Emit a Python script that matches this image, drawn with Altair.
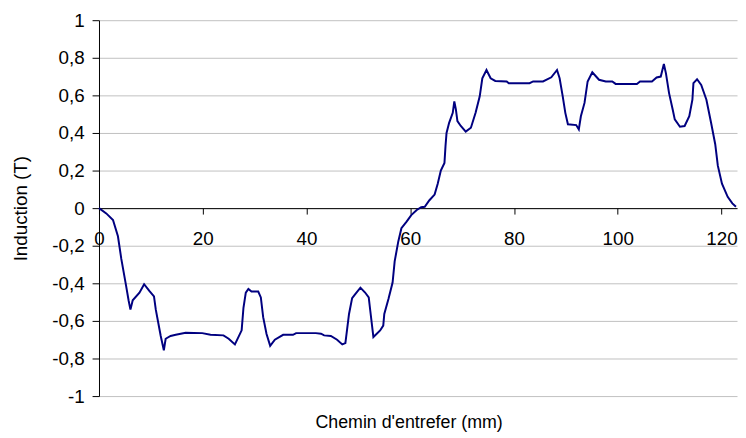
import altair as alt
import pandas as pd

# distance along the air gap (mm)
xs = [0.0, 1.4, 2.7, 3.65, 4.3, 5.2, 5.7, 6.06, 6.5, 7.8, 8.7, 9.7, 10.6, 10.95, 11.9, 12.5,
      12.85, 13.8, 14.8, 16.7, 19.9, 21.5, 24.0, 25.0, 26.2, 27.5, 27.85, 28.3, 28.8, 29.4,
      30.7, 31.2, 31.65, 32.3, 33.0, 33.9, 35.5, 37.4, 38.0, 41.8, 42.8, 43.4, 44.7, 45.9,
      46.9, 47.5, 48.2, 48.8, 49.4, 50.4, 51.3, 52.0, 52.3, 52.9, 54.2, 54.8, 55.0, 55.8,
      56.6, 57.0, 57.7, 58.3, 59.3, 60.2, 61.2, 62.1, 62.8, 63.7, 64.7, 65.3, 65.9, 66.6,
      66.8, 67.0, 67.5, 68.2, 68.5, 68.8, 69.1, 69.75, 70.7, 71.7, 72.6, 73.4, 73.9, 74.7,
      75.5, 76.4, 78.6, 79.0, 83.0, 83.7, 85.6, 87.2, 88.3, 88.8, 89.4, 89.9, 90.4, 92.0,
      92.5, 92.9, 93.6, 94.2, 95.1, 96.4, 97.7, 98.95, 99.6, 103.7, 104.3, 106.6, 107.5,
      108.3, 108.9, 109.3, 109.9, 110.6, 111.0, 112.0, 112.9, 113.8, 114.4, 114.6, 115.3,
      116.1, 117.1, 118.0, 118.8, 119.3, 120.1, 121.2, 122.1, 122.8]

# induction (T)
ys = [0.0, -0.028, -0.063, -0.15, -0.27, -0.41, -0.49, -0.54, -0.49, -0.45, -0.405, -0.44,
      -0.47, -0.54, -0.68, -0.756, -0.695, -0.68, -0.674, -0.663, -0.665, -0.674, -0.677,
      -0.695, -0.725, -0.65, -0.53, -0.45, -0.43, -0.444, -0.444, -0.475, -0.58, -0.67,
      -0.733, -0.70, -0.674, -0.674, -0.665, -0.665, -0.668, -0.677, -0.68, -0.70, -0.725,
      -0.718, -0.563, -0.479, -0.458, -0.423, -0.449, -0.475, -0.546, -0.686, -0.651,
      -0.625, -0.563, -0.484, -0.396, -0.283, -0.177, -0.107, -0.072, -0.037, -0.011,
      0.005, 0.007, 0.042, 0.072, 0.13, 0.2, 0.24, 0.33, 0.40, 0.454, 0.507, 0.568, 0.525,
      0.463, 0.437, 0.407, 0.428, 0.507, 0.595, 0.691, 0.735, 0.691, 0.677, 0.674, 0.665,
      0.665, 0.674, 0.674, 0.696, 0.735, 0.691, 0.595, 0.507, 0.446, 0.442, 0.419, 0.489,
      0.56, 0.674, 0.723, 0.683, 0.674, 0.674, 0.661, 0.661, 0.674, 0.674, 0.695, 0.70,
      0.767, 0.717, 0.612, 0.525, 0.472, 0.433, 0.437, 0.489, 0.577, 0.665, 0.686, 0.656,
      0.577, 0.454, 0.34, 0.226, 0.13, 0.06, 0.025, 0.007]

x_ticks = [0, 20, 40, 60, 80, 100, 120]
y_ticks = [-1, -0.8, -0.6, -0.4, -0.2, 0, 0.2, 0.4, 0.6, 0.8, 1]

df = pd.DataFrame({"x": xs, "y": ys})

FONT = "Liberation Sans"
xscale = alt.Scale(domain=[0, 123], nice=False, zero=False)
yscale = alt.Scale(domain=[-1, 1], nice=False)

y_axis = alt.Axis(values=y_ticks, title="Induction (T)", orient="left",
                  labelExpr="replace(toString(datum.value), '.', ',')",
                  grid=True, gridColor="#c0c0c0",
                  domainColor="#000000", tickColor="#000000", tickSize=7,
                  labelFont=FONT, labelFontSize=19, labelColor="#000000",
                  labelPadding=8,
                  titleFont=FONT, titleFontSize=19, titleFontWeight="normal",
                  titleColor="#000000", titleX=-79, titleY=190,
                  titleAngle=270, titleBaseline="middle", titleAlign="center")

line = alt.Chart(df).mark_line(color="#000080", strokeWidth=2).encode(
    x=alt.X("x:Q", scale=xscale,
            axis=alt.Axis(values=x_ticks, offset=-190, title=None, grid=False, orient="bottom",
                          domainColor="#000000", tickColor="#000000", tickSize=6,
                          labelFont=FONT, labelFontSize=19, labelColor="#000000",
                          labelPadding=16, labelFlush=False)),
    y=alt.Y("y:Q", scale=yscale, axis=y_axis),
)

title_layer = alt.Chart(df).mark_line(strokeOpacity=0).encode(
    x=alt.X("x:Q", scale=xscale,
            axis=alt.Axis(title="Chemin d'entrefer (mm)", orient="bottom", domain=False,
                          ticks=False, labels=False, grid=False,
                          titleFont=FONT, titleFontSize=18, titleFontWeight="normal",
                          titleColor="#000000", titlePadding=18, titleX=313)),
    y=alt.Y("y:Q", scale=yscale, axis=y_axis),
)

chart = alt.layer(line, title_layer).resolve_axis(x="independent").properties(
    width=645, height=380,
    autosize=alt.AutoSizeParams(type="none"),
    padding={"left": 92, "top": 10, "right": 1, "bottom": 36},
    background="white",
).configure_view(stroke=None)

chart.save("out.html", embed_options={"renderer": "svg", "actions": False})
